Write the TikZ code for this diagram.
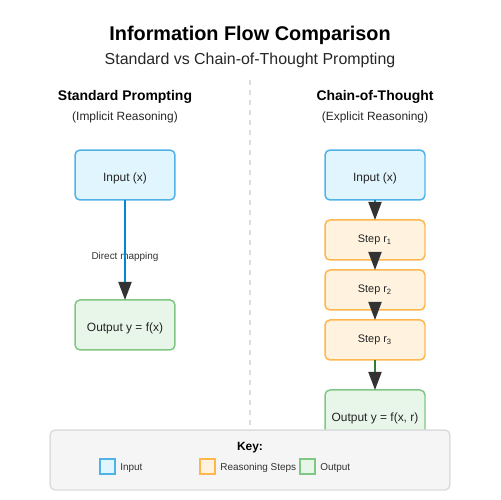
\documentclass[tikz,border=0pt]{standalone}
\usepackage{fontspec}
\setmainfont{Liberation Sans}
\usetikzlibrary{arrows.meta,positioning}
\definecolor{inFill}{HTML}{E1F5FE}
\definecolor{inLine}{HTML}{4FB3E8}
\definecolor{stFill}{HTML}{FFF3E0}
\definecolor{stLine}{HTML}{FFB74D}
\definecolor{outFill}{HTML}{E8F5E9}
\definecolor{outLine}{HTML}{81C784}
\definecolor{tipGray}{HTML}{333333}
\definecolor{blueFlow}{HTML}{0288D1}
\definecolor{greenFlow}{HTML}{2E7D32}
\definecolor{keyFill}{HTML}{F5F5F5}
\definecolor{keyLine}{HTML}{DDDDDD}
\newcommand{\pxsize}[1]{\fontsize{#1}{#1}\selectfont}
\tikzset{
	box/.style={draw, rounded corners=0.1cm, line width=0.85pt, outer sep=0pt, minimum width=2cm, minimum height=1cm, inner sep=0pt, text height=0.78em, text depth=0pt, text=tipGray!70!black, font=\pxsize{6.8pt}},
	inbox/.style={box, fill=inFill, draw=inLine},
	stepbox/.style={box, fill=stFill, draw=stLine, minimum height=0.8cm, text height=0.56em, text depth=0.25em, font=\pxsize{6.2pt}},
	outbox/.style={box, fill=outFill, draw=outLine},
	legbox/.style={draw, line width=0.85pt, minimum size=0.3cm, inner sep=0pt},
	caption/.style={anchor=base, inner sep=0pt},
	flow/.style={line width=1.1pt, -{Triangle[length=0.36cm, width=0.26cm, color=tipGray]}},
}
\begin{document}
\begin{tikzpicture}[x=0.02cm, y=-0.02cm]
			%%%%% START %%%%%
			\useasboundingbox[fill=white] (0, 0) rectangle (500, 500);
			
			\node[caption, font=\pxsize{11.3pt}\bfseries] (title) at (250, 40.5) {Information Flow Comparison};
			\node[caption, font=\pxsize{9.07pt}, text=black!85] (subtitle) at (250, 65) {Standard vs Chain-of-Thought Prompting};
			
			\draw[line width=1.1pt, color=keyLine, dash pattern=on 0.1cm off 0.1cm] (250, 80) -- (250, 430);
			
			\node[caption, font=\pxsize{7.94pt}\bfseries] (stdHead) at (125, 100.3) {Standard Prompting};
			\node[caption, font=\pxsize{6.8pt}, text=black!85] (stdSub) at (125, 120.5) {(Implicit Reasoning)};
			\node[caption, font=\pxsize{7.94pt}\bfseries] (cotHead) at (375, 100.3) {Chain-of-Thought};
			\node[caption, font=\pxsize{6.8pt}, text=black!85] (cotSub) at (375, 120.5) {(Explicit Reasoning)};
			
			% standard side
			\node[inbox] (stdIn) at (125, 175) {Input (x)};
			\node[outbox, below=2cm of stdIn] (stdOut) {Output y = f(x)};
			\node[caption, font=\pxsize{5.67pt}, text=tipGray] (mapLbl) at (125, 259.5) {Direct mapping};
			\draw[flow, color=blueFlow] (stdIn) -- (stdOut);
			
			% chain-of-thought side
			\node[inbox] (cotIn) at (375, 175) {Input (x)};
			\node[stepbox, below=0.4cm of cotIn] (stepA) {Step r\textsubscript{1}};
			\node[stepbox, below=0.2cm of stepA] (stepB) {Step r\textsubscript{2}};
			\node[stepbox, below=0.2cm of stepB] (stepC) {Step r\textsubscript{3}};
			\node[outbox, below=0.6cm of stepC] (cotOut) {Output y = f(x, r)};
			\draw[flow, color=blueFlow] (cotIn) -- (stepA);
			\draw[flow, color=stLine] (stepA) -- (stepB);
			\draw[flow, color=stLine] (stepB) -- (stepC);
			\draw[flow, color=greenFlow] (stepC) -- (cotOut);
			
			% key
			\node[draw=keyLine, fill=keyFill, line width=0.85pt, rounded corners=0.1cm, minimum width=8cm, minimum height=1.2cm] (keyBox) at (250, 460) {};
			\node[caption, font=\pxsize{6.8pt}\bfseries] (keyTitle) at (250, 450) {Key:};
			\node[legbox, fill=inFill, draw=inLine] (legIn) at (107.5, 466.5) {};
			\node[legbox, fill=stFill, draw=stLine] (legStep) at (207.5, 466.5) {};
			\node[legbox, fill=outFill, draw=outLine] (legOut) at (307.5, 466.5) {};
			\node[caption, anchor=base west, font=\pxsize{5.67pt}, text=tipGray] (legInTxt) at (120, 470) {Input};
			\node[caption, anchor=base west, font=\pxsize{5.67pt}, text=tipGray] (legStepTxt) at (220, 470) {Reasoning Steps};
			\node[caption, anchor=base west, font=\pxsize{5.67pt}, text=tipGray] (legOutTxt) at (320, 470) {Output};
			%%%%% END %%%%%
\end{tikzpicture}
\end{document}
